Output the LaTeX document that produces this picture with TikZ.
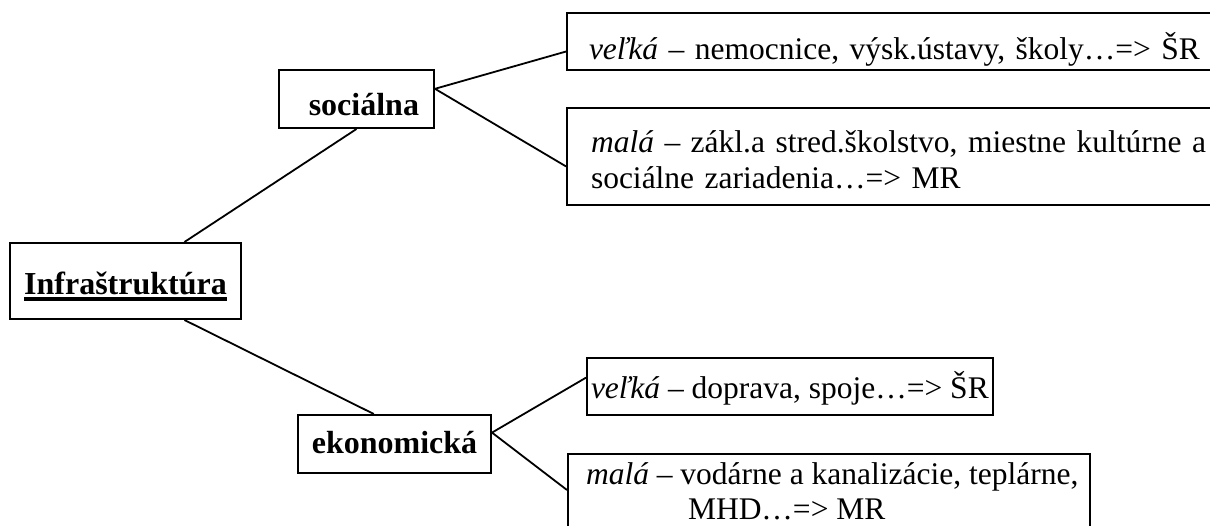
\documentclass[tikz,border=0pt]{standalone}
\usepackage{fontspec}
\setmainfont{Liberation Serif}
\usetikzlibrary{calc}
\newcommand{\myuline}[1]{\vtop{\hbox{#1}\kern3pt\hrule height 3.5pt}}
\tikzset{
  box/.style={draw=black, line width=2pt, rectangle, inner sep=0pt},
  lbl/.style={box, font=\bfseries\fontsize{32}{38}\selectfont},
  txt/.style={box, font=\fontsize{31.5}{36}\selectfont},
  conn/.style={draw=black, line width=1.8pt}
}
\begin{document}
\begin{tikzpicture}[x=1pt,y=-1pt]
\useasboundingbox (0,0) rectangle (1210,525);
\clip (0,0) rectangle (1210,525);
\fill[white] (0,0) rectangle (1210,525);

\node[lbl, anchor=north west, minimum width=231pt, minimum height=76pt,
      text height=30pt, text depth=4pt] (infra) at (9,242) {\myuline{Infraštruktúra}};
\node[lbl, anchor=north west, text width=125pt, align=right, inner xsep=15pt,
      minimum height=58pt, text height=32pt, text depth=0pt] (soc) at (278,69) {sociálna};
\node[lbl, anchor=north west, minimum width=193pt, minimum height=58pt,
      text height=20pt, text depth=2pt] (eko) at (297,414) {ekonomická};

\node[txt, anchor=north west, text width=640pt, align=left, inner xsep=22pt,
      minimum height=57pt, text height=40pt, text depth=5pt] (v1) at (566,12)
      {\textit{veľká} – nemocnice, výsk.ústavy, školy…=> ŠR};
\node[txt, anchor=north west, text width=640pt, align=left, inner xsep=24pt,
      inner ysep=14pt] (m1) at (566,107)
      {\rule{0pt}{30pt}\textit{malá} – zákl.a stred.školstvo, miestne kultúrne a\\sociálne zariadenia…=> MR\rule[-3pt]{0pt}{3pt}};
\node[txt, anchor=north west, inner xsep=4pt, minimum height=57pt,
      text height=28pt, text depth=5pt] (v2) at (586,357)
      {\textit{veľká} – doprava, spoje…=> ŠR};
\node[txt, anchor=north west, align=left, inner xsep=12pt,
      inner ysep=5pt, font=\fontsize{31.5}{35.5}\selectfont] (m2) at (567,453)
      {\hspace*{6pt}\rule{0pt}{25pt}\textit{malá} – vodárne a kanalizácie, teplárne,\\\hspace*{108pt}MHD…=> MR\rule[-14pt]{0pt}{14pt}};

\draw[conn] ($(infra.north west)!0.753!(infra.north east)$) -- (soc.south);
\draw[conn] ($(infra.south west)!0.753!(infra.south east)$) -- ($(eko.north west)!0.394!(eko.north east)$);
\draw[conn] ($(soc.north east)!0.33!(soc.south east)$) -- ($(v1.north west)!0.67!(v1.south west)$);
\draw[conn] ($(soc.north east)!0.33!(soc.south east)$) -- ($(m1.north west)!0.6!(m1.south west)$);
\draw[conn] ($(eko.north east)!0.31!(eko.south east)$) -- ($(v2.north west)!0.35!(v2.south west)$);
\draw[conn] ($(eko.north east)!0.31!(eko.south east)$) -- ($(m2.north west)+(0,37)$);
\end{tikzpicture}
\end{document}
